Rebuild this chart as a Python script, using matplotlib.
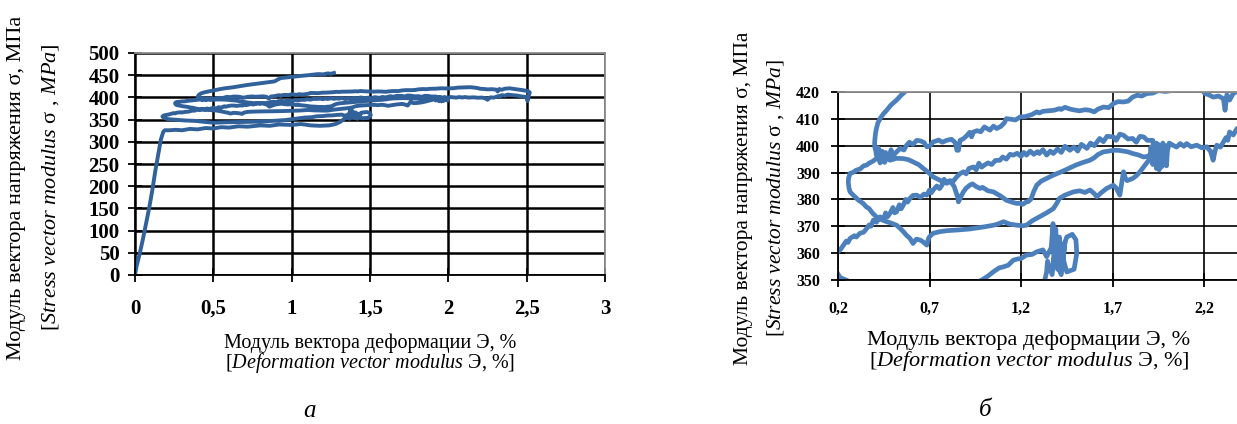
import numpy as np
from matplotlib import pyplot as plt

# digitised path of the loading curve: (deformation %, stress MPa)
loading = [(0, 0), (0.01, 20), (0.03, 48), (0.05, 80), (0.07, 115), (0.09, 150), (0.11, 190),
           (0.13, 235), (0.15, 275), (0.165, 305), (0.18, 322), (0.19, 326)]

plateau = [(0.22, 326), (0.26, 327), (0.3, 326), (0.35, 329), (0.4, 328), (0.45, 331), (0.5, 330),
           (0.55, 333), (0.6, 332), (0.66, 335), (0.72, 334), (0.8, 337), (0.86, 336), (0.92, 339),
           (1.0, 338), (1.06, 340), (1.12, 337), (1.18, 336), (1.24, 337), (1.28, 340), (1.31, 345),
           (1.33, 350)]

scribble_low = [(1.34, 353), (1.345, 357), (1.37, 352), (1.38, 358), (1.42, 352), (1.44, 364),
                (1.43, 358), (1.45, 353), (1.49, 354), (1.505, 360), (1.5, 365), (1.48, 367),
                (1.45, 366), (1.43, 362), (1.42, 358), (1.41, 366), (1.40, 354), (1.39, 369),
                (1.38, 356), (1.375, 371), (1.365, 362), (1.35, 360), (1.34, 358.7), (1.32, 361.2)]

unload_low = [(1.286, 360.5), (1.26, 359.5), (1.23, 359.3), (1.2, 358), (1.18, 357.8), (1.158, 357.4),
              (1.13, 355.5), (1.104, 354.9), (1.08, 354.5), (1.05, 353.1), (1.02, 351.5), (1.0, 350.6),
              (0.96, 349), (0.9, 347.5), (0.82, 346), (0.74, 345), (0.66, 344.5), (0.58, 344),
              (0.5, 343), (0.44, 345), (0.39, 347), (0.32, 348), (0.26, 349.5), (0.21, 351),
              (0.185, 354), (0.175, 357), (0.185, 359.5), (0.2, 360.5)]

rise_1 = [(0.215, 361.5), (0.23, 363), (0.245, 364.5), (0.255, 364), (0.266, 365.5), (0.29, 366.5),
          (0.3, 366), (0.32, 367.4), (0.34, 367.8), (0.357, 369.2), (0.37, 370.5), (0.38, 370),
          (0.393, 372.3), (0.41, 371.5), (0.43, 373.5), (0.45, 372.9), (0.46, 375), (0.47, 373.5),
          (0.484, 374.8), (0.50, 377), (0.51, 375), (0.52, 375.4), (0.535, 378), (0.545, 376.5),
          (0.557, 377.9), (0.57, 380), (0.58, 379), (0.593, 380.4), (0.61, 381.5), (0.63, 381.6),
          (0.65, 380.8), (0.67, 382), (0.685, 381.6), (0.70, 383.5), (0.71, 382.5), (0.72, 383.5),
          (0.74, 385), (0.755, 384), (0.77, 385.5), (0.78, 387.5), (0.794, 386), (0.81, 387),
          (0.83, 386.8), (0.85, 388.5), (0.865, 389.5), (0.885, 390.3), (0.9, 389.5), (0.915, 391.5),
          (0.94, 392.1), (0.955, 391), (0.97, 393.5), (0.985, 392), (1.0, 392.8), (1.02, 393.6),
          (1.04, 393), (1.06, 394.5), (1.085, 394.6), (1.1, 395.8), (1.12, 395), (1.14, 396.8),
          (1.158, 396.5), (1.18, 397.2), (1.2, 396), (1.215, 397.5), (1.23, 396.5), (1.25, 398),
          (1.27, 396.8), (1.29, 397.8), (1.30, 397.1), (1.32, 398.5), (1.34, 396.5), (1.36, 398),
          (1.377, 397.1), (1.4, 398.8), (1.42, 397.5), (1.44, 399.8), (1.467, 398.3), (1.49, 399.5),
          (1.51, 398), (1.53, 400.5), (1.56, 399), (1.58, 401), (1.6, 400), (1.63, 402.7),
          (1.65, 401.5), (1.67, 403.5), (1.705, 403.3), (1.72, 402), (1.74, 404.3), (1.76, 403.9),
          (1.785, 402.5), (1.81, 402.7), (1.83, 401.3), (1.85, 403.5), (1.87, 403.3), (1.89, 402),
          (1.92, 402)]

scribble_mid = [(1.93, 396), (1.94, 401), (1.945, 392), (1.95, 400.5), (1.955, 391), (1.96, 399),
                (1.965, 393), (1.975, 401), (1.98, 394), (1.99, 400), (1.995, 392.5), (2.0, 398),
                (2.01, 401), (2.03, 400.2)]

right_end = [(2.05, 399.5), (2.07, 400.8), (2.09, 399.8), (2.105, 400.8), (2.13, 399.6), (2.16, 400.2),
             (2.19, 399.2), (2.215, 399.6), (2.235, 398), (2.25, 394.6), (2.26, 398), (2.27, 400.2),
             (2.29, 399.5), (2.306, 401.4), (2.32, 403), (2.33, 402), (2.34, 405.1), (2.36, 404),
             (2.38, 406.4), (2.41, 405), (2.44, 404), (2.47, 402), (2.5, 401), (2.505, 392),
             (2.51, 398), (2.515, 406), (2.52, 411), (2.51, 414), (2.48, 416), (2.45, 417.5),
             (2.42, 419), (2.39, 420.5), (2.36, 419.5), (2.34, 417), (2.325, 419), (2.315, 413.2),
             (2.306, 417.5), (2.28, 418.5), (2.25, 418.1), (2.225, 419), (2.205, 419.4), (2.18, 421.5),
             (2.14, 423), (2.1, 422.5), (2.06, 422), (2.03, 420.6)]

return_top = [(1.99, 420.2), (1.95, 420.5), (1.92, 419.6), (1.887, 419.4), (1.86, 418.5), (1.835, 418.8),
              (1.81, 418.1), (1.785, 416.6), (1.76, 416.3), (1.73, 416.4), (1.705, 415.7), (1.68, 414.2),
              (1.65, 414.4), (1.62, 413.6), (1.6, 412.6), (1.575, 413.2), (1.55, 413.4), (1.52, 413),
              (1.5, 413.2), (1.47, 413.6), (1.44, 414.3), (1.42, 413.5), (1.41, 413.8), (1.38, 413.2),
              (1.35, 413), (1.32, 412.8), (1.3, 412.2), (1.286, 412.6), (1.26, 411.6), (1.24, 411.2),
              (1.22, 410.8), (1.195, 410.7), (1.17, 409.6), (1.15, 409.8), (1.12, 410.1), (1.11, 408.6),
              (1.09, 407.2), (1.067, 406.4), (1.05, 407.3), (1.03, 405.8), (1.0, 407), (0.98, 405.2),
              (0.96, 405.6), (0.94, 405.1), (0.93, 403.3), (0.92, 405), (0.9, 403.5), (0.885, 402.6),
              (0.867, 402), (0.858, 398.3), (0.85, 398.3), (0.84, 401.2), (0.82, 402.4), (0.794, 402),
              (0.77, 401.3), (0.75, 402.1), (0.72, 401.4), (0.70, 399.8), (0.685, 399.6), (0.67, 401.2),
              (0.65, 401.8), (0.63, 402), (0.61, 400.5), (0.59, 401.3), (0.575, 400.2), (0.56, 398.4),
              (0.54, 399), (0.52, 397.7)]

loop_left = [(0.50, 396.2), (0.49, 398.5), (0.475, 395), (0.46, 397.5), (0.45, 394.2), (0.44, 396.8),
             (0.43, 393.6), (0.42, 396), (0.41, 395.2), (0.39, 394.2), (0.37, 393.5), (0.357, 392.8),
             (0.34, 392.5), (0.32, 391.3), (0.30, 390.9), (0.28, 390), (0.266, 389.7), (0.258, 388),
             (0.256, 386.5), (0.26, 384.2), (0.266, 382.8), (0.28, 381.8), (0.293, 381)]

reload_2 = [(0.31, 379.8), (0.338, 378.5), (0.355, 377.2), (0.37, 376.6), (0.39, 374.8), (0.41, 373.5),
            (0.44, 372.4), (0.466, 371.7), (0.49, 371.2), (0.52, 370.4), (0.54, 369.2), (0.557, 368),
            (0.575, 366.6), (0.593, 365.5), (0.61, 363.6), (0.628, 365.2), (0.648, 364.9), (0.665, 364.2),
            (0.685, 363), (0.695, 365.5), (0.70, 366.1), (0.72, 367.4), (0.757, 368), (0.80, 368.4),
            (0.85, 368.6), (0.92, 369), (0.94, 369.2), (1.0, 369.8), (1.05, 370.4), (1.08, 371),
            (1.104, 371.7), (1.14, 370.8), (1.177, 370.4), (1.21, 370.2), (1.23, 370.4), (1.26, 372),
            (1.30, 373.5), (1.34, 375), (1.377, 376.6), (1.395, 378.5), (1.41, 380.4), (1.44, 381.6),
            (1.486, 382.8), (1.52, 383.2), (1.55, 382.6), (1.577, 383.5), (1.6, 382.2), (1.614, 381),
            (1.64, 382.6), (1.668, 384.1), (1.705, 385.3), (1.72, 384.3), (1.74, 381.6), (1.75, 386),
            (1.76, 390.3), (1.77, 388), (1.78, 387), (1.81, 387.8), (1.83, 388.8), (1.85, 390.3),
            (1.878, 392.8), (1.905, 395.2)]

scribble_top = [(1.91, 399.5), (1.92, 393), (1.93, 400.5), (1.94, 391.5), (1.945, 398.5), (1.955, 394.5),
                (1.96, 400), (1.97, 392.2), (1.975, 397), (1.96, 396), (1.94, 395), (1.91, 396.8),
                (1.89, 396)]

return_mid = [(1.87, 395.8), (1.84, 396.6), (1.81, 397.1), (1.785, 397.7), (1.76, 398), (1.73, 398.3),
              (1.705, 398.3), (1.68, 398), (1.65, 397.7), (1.62, 396.7), (1.6, 395.5), (1.577, 394.6),
              (1.54, 393.8), (1.50, 392.8), (1.45, 391.2), (1.41, 390), (1.375, 389), (1.34, 387.8),
              (1.31, 386.8), (1.286, 385.3), (1.27, 383), (1.255, 380.2), (1.24, 379.2), (1.23, 379.1),
              (1.21, 378.2), (1.19, 378.6), (1.177, 378.5), (1.15, 379), (1.12, 379.7), (1.09, 381.2),
              (1.05, 382.8), (1.02, 383.2), (0.99, 384.5), (0.976, 384.1), (0.955, 384.8), (0.935, 385.8),
              (0.92, 385.3), (0.9, 384.2), (0.885, 382.8), (0.87, 380.8), (0.858, 379.1), (0.853, 381.5),
              (0.85, 381.6), (0.835, 384.8), (0.82, 386.2), (0.81, 386.5), (0.776, 386.5), (0.75, 387.4),
              (0.72, 388.4), (0.695, 390), (0.667, 391.5), (0.64, 393), (0.61, 394), (0.585, 394.8),
              (0.557, 395.2), (0.52, 395.3), (0.484, 394.6)]

final_rise = [(0.47, 396.8), (0.455, 393.8), (0.44, 398), (0.43, 395.5), (0.42, 399.2), (0.41, 396.4),
              (0.405, 398.8), (0.402, 399), (0.40, 401), (0.402, 402.7), (0.405, 404.6), (0.41, 406.4),
              (0.418, 408.5), (0.43, 410.1), (0.447, 411.8), (0.466, 413.2), (0.49, 415.2), (0.52, 417),
              (0.545, 418.8), (0.575, 420.6), (0.62, 422.5), (0.66, 424.8), (0.717, 428), (0.77, 430.5),
              (0.83, 433.2), (0.89, 436), (0.91, 440), (0.93, 443.5), (0.98, 445.5), (1.06, 448.5),
              (1.11, 450.2), (1.17, 452.5), (1.2, 451.8), (1.23, 454), (1.25, 453.2), (1.27, 455)]

segments = [loading, plateau, scribble_low, unload_low, rise_1, scribble_mid, right_end, return_top,
            loop_left, reload_2, scribble_top, return_mid, final_rise]

left_xticks = [0, 0.5, 1, 1.5, 2, 2.5, 3]
left_xlabels = ['0', '0,5', '1', '1,5', '2', '2,5', '3']
left_yticks = list(range(0, 501, 50))
right_xticks = [0.2, 0.7, 1.2, 1.7, 2.2]
right_xlabels = ['0,2', '0,7', '1,2', '1,7', '2,2']
right_yticks = list(range(350, 421, 10))

ylabel_ru = 'Модуль вектора напряжения σ, МПа'
ylabel_en = r'[$\mathit{Stress\ vector\ modulus}$ σ , $\mathit{MPa}$]'
xlabel_ru = 'Модуль вектора деформации Э, %'
xlabel_en = r'[$\mathit{Deformation\ vector\ modulus}$ Э, %]'


def style_axes(ax, grid_lw):
    ax.set_axisbelow(True)
    ax.grid(True, color='black', linewidth=grid_lw)
    for side in ['left', 'bottom']:
        ax.spines[side].set_color('black')
        ax.spines[side].set_linewidth(1.3)
    for side in ['top', 'right']:
        ax.spines[side].set_color('#8c8c8c')
        ax.spines[side].set_linewidth(1.3)
    ax.tick_params(direction='inout', length=10, width=1.3, color='black')


def main():
    plt.rcParams['font.family'] = 'Liberation Serif'
    plt.rcParams['mathtext.fontset'] = 'custom'
    plt.rcParams['mathtext.rm'] = 'Liberation Serif'
    plt.rcParams['mathtext.it'] = 'Liberation Serif:italic'

    pts = np.array([p for seg in segments for p in seg])
    x, y = pts[:, 0], pts[:, 1]

    W, H = 1237, 424
    fig = plt.figure(figsize=(W / 100, H / 100), dpi=100)
    fig.patch.set_facecolor('white')

    # panel a
    ax1 = fig.add_axes([135 / W, 1 - 275 / H, 470 / W, 222 / H])
    ax1.plot(x, y, color='#31619a', linewidth=2.8, solid_joinstyle='round')
    ax1.set_xlim(0, 3)
    ax1.set_ylim(0, 500)
    ax1.set_xticks(left_xticks)
    ax1.set_xticklabels(left_xlabels)
    ax1.set_yticks(left_yticks)
    style_axes(ax1, 1.8)
    ax1.tick_params(axis='y', pad=6)
    ax1.tick_params(axis='x', pad=12)
    for lab in ax1.get_xticklabels() + ax1.get_yticklabels():
        lab.set_fontsize(15)
        lab.set_fontweight('bold')

    # panel b (zoomed, runs past the right edge of the picture)
    ax2 = fig.add_axes([838 / W, 1 - 280 / H, 457.5 / W, 188 / H])
    ax2.plot(x, y, color='#cc2222', linewidth=1.0)
    ax2.plot(x, y, color='#4c80bd', linewidth=3.4, solid_joinstyle='round')
    ax2.set_xlim(0.2, 2.7)
    ax2.set_ylim(350, 420)
    ax2.set_xticks(right_xticks)
    ax2.set_xticklabels(right_xlabels)
    ax2.set_yticks(right_yticks)
    style_axes(ax2, 1.2)
    ax2.tick_params(axis='y', pad=8)
    ax2.tick_params(axis='x', pad=10)
    for lab in ax2.get_xticklabels() + ax2.get_yticklabels():
        lab.set_fontsize(11.5)
        lab.set_fontweight('bold')

    # axis titles
    fig.text(17 / W, 1 - 188 / H, ylabel_ru, rotation=90, ha='center', va='center', fontsize=16)
    fig.text(51 / W, 1 - 187 / H, ylabel_en, rotation=90, ha='center', va='center', fontsize=16)
    fig.text(370 / W, 1 - 343 / H, xlabel_ru, ha='center', va='center', fontsize=14.5)
    fig.text(370 / W, 1 - 363 / H, xlabel_en, ha='center', va='center', fontsize=14.5)

    fig.text(744 / W, 1 - 198 / H, ylabel_ru, rotation=90, ha='center', va='center', fontsize=15.5)
    fig.text(775 / W, 1 - 198 / H, ylabel_en, rotation=90, ha='center', va='center', fontsize=15.5)
    fig.text(1029 / W, 1 - 340 / H, xlabel_ru, ha='center', va='center', fontsize=16)
    fig.text(1029 / W, 1 - 361 / H, xlabel_en, ha='center', va='center', fontsize=16)

    fig.text(309 / W, 1 - 411 / H, 'а', ha='center', va='center', fontsize=18, style='italic')
    fig.text(985 / W, 1 - 410 / H, 'б', ha='center', va='center', fontsize=18, style='italic')

    fig.savefig('out.png', dpi=100)


if __name__ == '__main__':
    main()
